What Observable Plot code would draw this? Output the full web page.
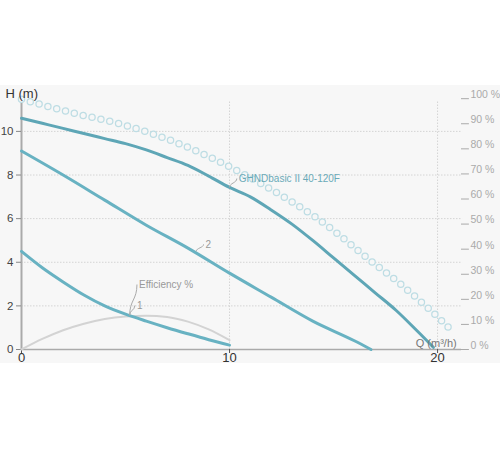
<!DOCTYPE html>
<html>
<head>
<meta charset="utf-8">
<script src="https://cdn.jsdelivr.net/npm/d3@7"></script>
<script src="https://cdn.jsdelivr.net/npm/@observablehq/plot@0.6"></script>
<style>
  html, body { margin: 0; padding: 0; background: #fff; }
  #chart svg { display: block; }
</style>
</head>
<body>
<div id="chart"></div>
<script>
// ---- data ----
// main pump curve GHNDbasic II 40-120F
const qMain = [0, 1, 2, 3, 4, 5, 6, 7, 8, 9, 10, 11, 12, 13, 14, 15, 16, 17, 18, 19, 19.8];
const hMain = [10.6, 10.37, 10.14, 9.9, 9.67, 9.44, 9.15, 8.8, 8.44, 7.95, 7.43, 7.0, 6.4, 5.75, 5.0, 4.2, 3.4, 2.6, 1.8, 0.87, 0.1];
// curve 2
const q2 = [0, 2, 4, 6, 8, 10, 12, 14, 16, 16.8];
const h2 = [9.1, 8.0, 6.85, 5.7, 4.65, 3.5, 2.4, 1.3, 0.4, 0];
// curve 1
const q1 = [0, 1, 2, 3, 4, 5, 6, 7, 8, 9, 10];
const h1 = [4.5, 3.75, 3.1, 2.5, 2.0, 1.62, 1.3, 1.0, 0.72, 0.45, 0.2];
// efficiency (%)
const qEff = [0, 1, 2, 3, 4, 5, 6, 7, 8, 9, 10];
const effPct = [0, 4.2, 7.7, 10.3, 12.2, 13.2, 13.5, 13.0, 11.1, 8.0, 3.7];
// dotted (ring) curve
const qRing = [0, 2.5, 5.1, 7.3, 9.45, 10.7, 11.57, 12.9, 14.2, 15.1, 16.8, 18.1, 19.4, 20.27, 20.7];
const hRing = [11.47, 10.84, 10.25, 9.54, 8.64, 8.03, 7.57, 6.83, 6.02, 5.38, 4.05, 3.09, 2.02, 1.25, 0.84];
// axes
const yTicks = [0, 2, 4, 6, 8, 10];
const xTicks = [0, 10, 20];
const pctTicks = [0, 10, 20, 30, 40, 50, 60, 70, 80, 90, 100];
const pctToH = 0.115;   // 100 % on the right axis equals H = 11.5 m
// curve labels
const labelText = ["GHNDbasic II 40-120F", "2", "Efficiency %", "1"];
const labelAnchorQ = [10, 8.4, 5.2, 5.2];
const labelAnchorH = [7.43, 4.5, 1.56, 1.58];
const labelQ = [10.35, 8.75, 5.55, 5.45];
const labelH = [7.84, 4.82, 2.98, 2.02];
const labelColor = ["#6aaab8", "#999", "#999", "#999"];

// ---- build tables ----
const zip = (xs, ys) => xs.map((x, i) => ({q: x, h: ys[i]}));
const main = zip(qMain, hMain);
const c2 = zip(q2, h2);
const c1 = zip(q1, h1);
const eff = qEff.map((q, i) => ({q, h: effPct[i] * pctToH}));
const ring = zip(qRing, hRing);
const labels = labelText.map((t, i) => ({
  t, aq: labelAnchorQ[i], ah: labelAnchorH[i], lq: labelQ[i], lh: labelH[i], c: labelColor[i]
}));
const pct = pctTicks.map(p => ({p, h: p * pctToH}));

const panel = "#f7f7f7";
const teal = "#5ea6b6";
const teal2 = "#68b2c2";
const xMax = 21.15;

const chart = Plot.plot({
  width: 500,
  height: 450,
  marginLeft: 21,
  marginRight: 39,
  marginTop: 96,
  marginBottom: 101,
  style: {
    background: `linear-gradient(to bottom, #fff 0px, #fff 85px, ${panel} 85px, ${panel} 363px, #fff 363px)`,
    fontFamily: "'Liberation Sans', Arial, sans-serif",
    overflow: "visible"
  },
  x: {domain: [0, xMax], axis: null},
  y: {domain: [0, 11.6], axis: null},
  marks: [
    // grid
    Plot.ruleY(yTicks.filter(d => d > 0), {x1: 0, x2: 21.2, stroke: "#d4d4d4", strokeDasharray: "1.5,1.5"}),
    Plot.ruleX(xTicks.filter(d => d > 0), {y1: 0, y2: 11.4, stroke: "#d4d4d4", strokeDasharray: "1.5,1.5"}),
    // axis lines
    Plot.ruleY([0], {x1: 0, x2: xMax, stroke: "#aaa", strokeWidth: 1.5}),
    Plot.ruleX([0], {y1: 0, y2: 11.4, stroke: "#aaa", strokeWidth: 2}),
    // left axis
    Plot.axisY({ticks: yTicks, tickSize: 5, tickPadding: 3, fontSize: 11.5, color: "#444", stroke: "#888", tickFormat: d => d}),
    // bottom axis
    Plot.axisX({ticks: xTicks, tickSize: 4, tickPadding: -1, fontSize: 13, color: "#333", stroke: "#555", tickFormat: d => d}),
    // right axis (%): underline ticks with labels sitting on them
    Plot.ruleY(pct, {y: "h", x1: xMax, x2: xMax + 0.38, stroke: "#aaa", strokeWidth: 1}),
    Plot.text(pct, {y: "h", x: xMax + 0.38, text: d => `${d.p} %`, textAnchor: "start", dx: 1, dy: -4,
      fontSize: 10.5, fill: "#aaa"}),
    // ring curve (hollow circles)
    Plot.line(ring, {x: "q", y: "h", curve: "monotone-x", stroke: "#bedde4", strokeWidth: 7.5,
      strokeDasharray: "0 9.1", strokeLinecap: "round"}),
    Plot.line(ring, {x: "q", y: "h", curve: "monotone-x", stroke: panel, strokeWidth: 5,
      strokeDasharray: "0 9.1", strokeLinecap: "round"}),
    // efficiency
    Plot.line(eff, {x: "q", y: "h", curve: "monotone-x", stroke: "#d3d3d3", strokeWidth: 2}),
    // pump curves
    Plot.line(c1, {x: "q", y: "h", curve: "monotone-x", stroke: teal2, strokeWidth: 3}),
    Plot.line(c2, {x: "q", y: "h", curve: "monotone-x", stroke: teal2, strokeWidth: 3}),
    Plot.line(main, {x: "q", y: "h", curve: "monotone-x", stroke: teal, strokeWidth: 3}),
    // leaders and labels
    Plot.link(labels, {x1: "aq", y1: "ah", x2: "lq", y2: "lh", stroke: "#aaa", strokeWidth: 1, curve: "bump-y"}),
    Plot.text(labels, {x: "lq", y: "lh", text: "t", fill: "c", textAnchor: "start", dx: 2, fontSize: 10}),
    // axis titles
    Plot.text(["H (m)"], {x: 0, y: 11.6, dx: -16, dy: -3, textAnchor: "start", fontSize: 13, fill: "#333"}),
    Plot.text(["Q (m³/h)"], {x: 18.95, y: 0.28, textAnchor: "start", fontSize: 11, fill: "#777"})
  ]
});
document.getElementById("chart").appendChild(chart);
</script>
</body>
</html>
